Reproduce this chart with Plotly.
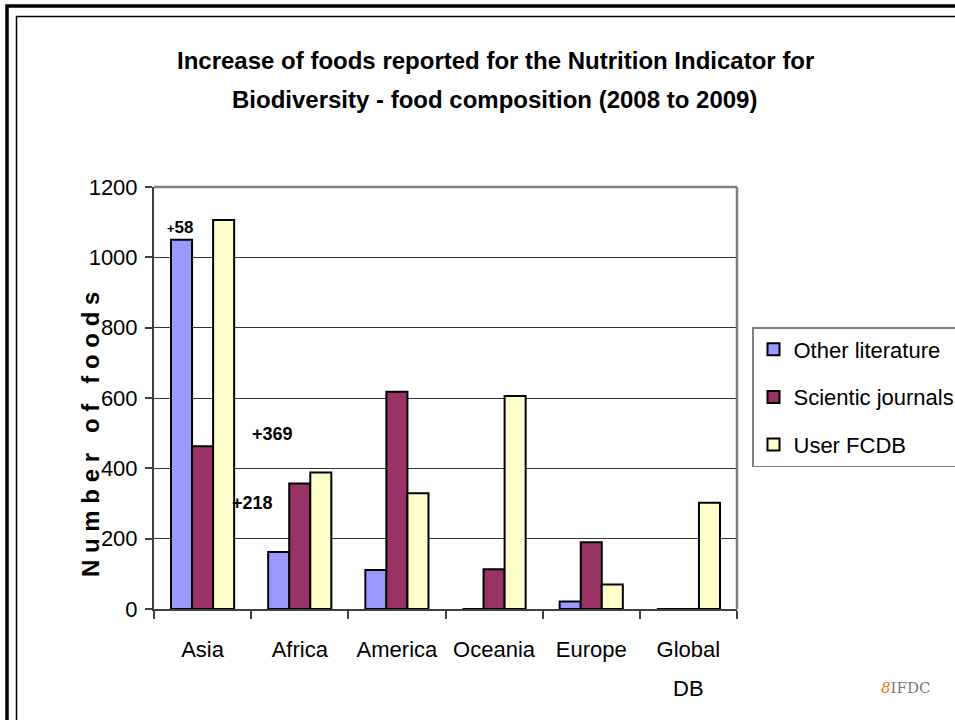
import plotly.graph_objects as go

categories = ["Asia", "Africa", "America", "Oceania", "Europe", "Global DB"]
tick_labels = ["Asia", "Africa", "America", "Oceania", "Europe", "Global"]
tick_second_line = ["", "", "", "", "", "DB"]
series_names = ["Other literature", "Scientic journals", "User FCDB"]
other_literature = [1050, 162, 111, 0, 21, 0]
scientific_journals = [463, 357, 618, 113, 190, 0]
user_fcdb = [1106, 388, 329, 606, 70, 302]
y_ticks = [0, 200, 400, 600, 800, 1000, 1200]
increase_labels = ["+58", "+369", "+218"]
increase_y = [1085, 498, 301]

colors = ["#9999FF", "#993366", "#FFFFCC"]
FONT = "Liberation Sans, Arial, sans-serif"

fig = go.Figure()
for i, (name, vals) in enumerate(zip(series_names, [other_literature, scientific_journals, user_fcdb])):
    fig.add_trace(go.Bar(
        x=categories, y=vals, name=name, legendgroup=name,
        marker=dict(color=colors[i], line=dict(color="black", width=2)),
    ))

W, H = 955, 720
L, R, T, B = 154, 218, 187, 111
pw, ph = W - L - R, H - T - B

def px_x(p):
    return (p - L) / pw

def px_y(p):
    return (H - B - p) / ph

shapes = [
    dict(type="rect", xref="paper", yref="paper", x0=px_x(7), x1=px_x(975), y0=px_y(740), y1=px_y(6),
         line=dict(color="black", width=3.5), fillcolor="rgba(0,0,0,0)", layer="below"),
    dict(type="rect", xref="paper", yref="paper", x0=px_x(16.5), x1=px_x(975), y0=px_y(740), y1=px_y(16.5),
         line=dict(color="black", width=1.5), fillcolor="rgba(0,0,0,0)", layer="below"),
    dict(type="line", xref="paper", yref="paper", x0=0, x1=1, y0=1, y1=1,
         line=dict(color="#808080", width=2.5)),
    dict(type="line", xref="paper", yref="paper", x0=1, x1=1, y0=0, y1=1,
         line=dict(color="#808080", width=2.5)),
]

annotations = [
    dict(text="<b>Increase of foods reported for the Nutrition Indicator for</b>", xref="paper", yref="paper",
         x=px_x(495), y=px_y(60), showarrow=False, font=dict(family=FONT, size=24, color="black"),
         xanchor="center", yanchor="middle"),
    dict(text="<b>Biodiversity - food composition (2008 to 2009)</b>", xref="paper", yref="paper",
         x=px_x(494), y=px_y(100), showarrow=False, font=dict(family=FONT, size=24, color="black"),
         xanchor="center", yanchor="middle"),
    dict(text="<b><span style='font-size:13px'>+</span>" + increase_labels[0][1:] + "</b>", x=categories[0], y=increase_y[0],
         xref="x", yref="y", xshift=-22, showarrow=False, xanchor="center",
         font=dict(family=FONT, size=17, color="black")),
    dict(text="<b>" + increase_labels[1] + "</b>", xref="paper", yref="y", x=px_x(272), y=increase_y[1],
         showarrow=False, xanchor="center", yanchor="middle", font=dict(family=FONT, size=18, color="black")),
    dict(text="<b>" + increase_labels[2] + "</b>", xref="paper", yref="y", x=px_x(252), y=increase_y[2],
         showarrow=False, xanchor="center", yanchor="middle", font=dict(family=FONT, size=18, color="black")),
    dict(text="<b>N\u00a0u\u00a0m\u00a0b\u00a0e\u00a0r\u00a0\u00a0\u00a0o\u00a0f\u00a0\u00a0\u00a0f\u00a0o\u00a0o\u00a0d\u00a0s</b>",
         xref="paper", yref="paper", x=px_x(90), y=px_y(435), textangle=-90, showarrow=False,
         font=dict(family=FONT, size=24, color="black"), xanchor="center", yanchor="middle"),
    dict(text="<span style='color:#E07B20'><i>8</i></span><span style='color:#777'>IFDC</span>",
         xref="paper", yref="paper", x=px_x(905), y=px_y(688), showarrow=False,
         font=dict(family="DejaVu Serif, serif", size=15), xanchor="center", yanchor="middle"),
]
for cat, second in zip(categories, tick_second_line):
    if second:
        annotations.append(dict(text=second, x=cat, xref="x", yref="paper", y=px_y(688),
                                showarrow=False, xanchor="center", yanchor="middle",
                                font=dict(family=FONT, size=22, color="black")))

fig.update_layout(
    width=W, height=H,
    margin=dict(l=L, r=R, t=T, b=B, autoexpand=False),
    paper_bgcolor="white", plot_bgcolor="white",
    barmode="group", bargap=0.35, bargroupgap=0,
    font=dict(family=FONT, size=22, color="black"),
    showlegend=True,
    legend=dict(x=px_x(752), y=px_y(327), xanchor="left", yanchor="top",
                bordercolor="#808080", borderwidth=1.5, bgcolor="white",
                font=dict(family=FONT, size=22, color="black"),
                tracegroupgap=16, itemwidth=30, traceorder="grouped"),
    xaxis=dict(showline=True, linecolor="#404040", linewidth=2, ticks="outside", tickson="boundaries",
               ticklen=8, tickcolor="#404040", tickwidth=1.5, showgrid=False, tickangle=0,
               tickmode="array", tickvals=categories, ticktext=tick_labels,
               ticklabelstandoff=20, tickfont=dict(family=FONT, size=22)),
    yaxis=dict(range=[0, 1200], tickvals=y_ticks, showline=True, linecolor="#404040", linewidth=2,
               ticks="outside", ticklen=7, tickcolor="#404040", tickwidth=1.5,
               showgrid=True, gridcolor="#333333", gridwidth=1.2, zeroline=False,
               ticklabelstandoff=3, tickfont=dict(family=FONT, size=22)),
    shapes=shapes,
    annotations=annotations,
)

fig.write_html("out.html", config={"displayModeBar": False},
               post_script="document.body.style.margin='0px';document.body.style.overflow='hidden';")
